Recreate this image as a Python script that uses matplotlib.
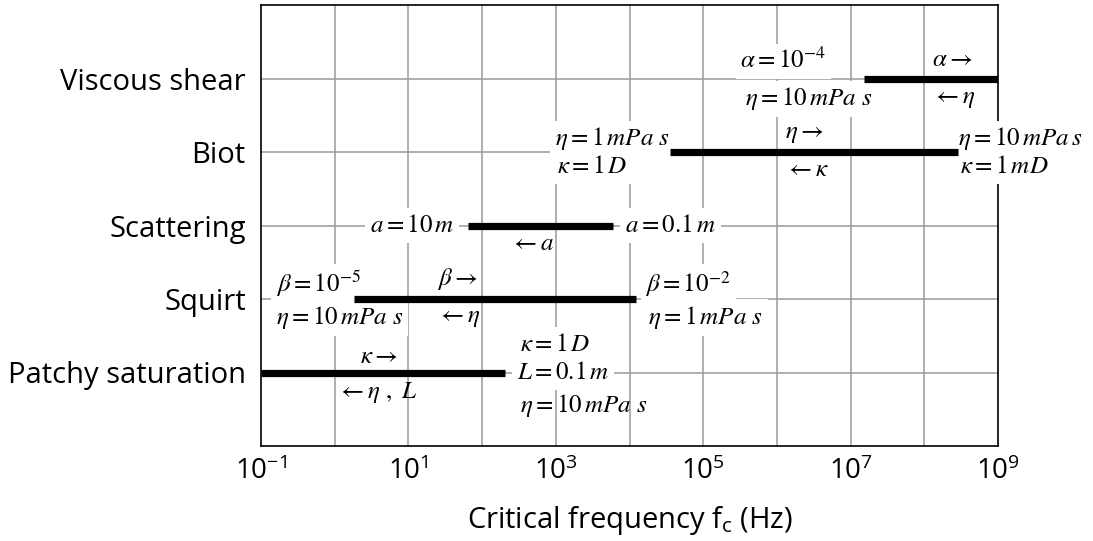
import matplotlib
matplotlib.use("Agg")
import matplotlib.pyplot as plt
import numpy as np

# ---- data ----
categories = ["Patchy saturation", "Squirt", "Scattering", "Biot", "Viscous shear"]
f_start = [0.1, 1.8, 65, 3.6e4, 1.5e7]
f_end = [205, 1.24e4, 6000, 2.9e8, 1e9]
tick_exponents = list(range(-1, 10))
label_exponents = [-1, 1, 3, 5, 7, 9]
xlabel = r"Critical frequency f$\mathregular{_c}$ (Hz)"

# annotation texts: (category index, text, boxed)
ann_texts = [
    (4, r"$\alpha=10^{-4}$", True),
    (4, r"$\eta=10\,mPa\ s$", True),
    (4, r"$\alpha\rightarrow$", False),
    (4, r"$\leftarrow\eta$", False),
    (3, r"$\eta=1\,mPa\ s$", True),
    (3, r"$\kappa=1\,D$", True),
    (3, r"$\eta\rightarrow$", False),
    (3, r"$\leftarrow\kappa$", False),
    (3, r"$\eta=10\,mPa\,s$", True),
    (3, r"$\kappa=1\,mD$", True),
    (2, r"$a=10\,m$", True),
    (2, r"$a=0.1\,m$", True),
    (2, r"$\leftarrow a$", False),
    (1, r"$\beta=10^{-5}$", True),
    (1, r"$\eta=10\,mPa\ s$", True),
    (1, r"$\beta\rightarrow$", False),
    (1, r"$\leftarrow\eta$", False),
    (1, r"$\beta=10^{-2}$", True),
    (1, r"$\eta=1\,mPa\ s$", True),
    (0, r"$\kappa\rightarrow$", False),
    (0, r"$\leftarrow\eta\ ,\ L$", False),
    (0, r"$\kappa=1\,D$", True),
    (0, r"$L=0.1\,m$", True),
    (0, r"$\eta=10\,mPa\ s$", False),
]
# layout: (log10 x of left edge, vertical offset from category)
ann_pos = [
    (5.506, 0.236), (5.572, -0.277), (8.111, 0.253), (8.111, -0.264),
    (2.992, 0.179), (3.019, -0.201), (6.115, 0.261), (6.115, -0.242),
    (8.464, 0.179), (8.491, -0.201),
    (0.480, 0.0), (3.942, 0.0), (2.381, -0.247),
    (-0.796, 0.206), (-0.796, -0.253), (1.390, 0.277), (1.390, -0.239),
    (4.214, 0.206), (4.255, -0.253),
    (0.344, 0.217), (0.032, -0.272), (2.517, 0.380), (2.476, 0.0), (2.517, -0.448),
]

plt.rcParams['font.family'] = ['Open Sans', 'DejaVu Sans']

fig = plt.figure(figsize=(10.93, 5.41), dpi=100)
ax = fig.add_axes([261/1093, 1-446/541, (998-261)/1093, (446-5)/541])

ax.set_xscale('log')
ax.set_xlim(10.0**-1, 10.0**9)
ax.set_ylim(-1, 5)

ypos = np.arange(len(categories))
# grid
for e in tick_exponents[1:-1]:
    ax.axvline(10.0**e, color='#9a9a9a', lw=1.1, zorder=1)
for y in ypos:
    ax.axhline(y, color='#9a9a9a', lw=1.1, zorder=1)

ax.hlines(ypos, f_start, f_end, color='black', lw=5.2, zorder=3)

ax.set_yticks(ypos)
ax.set_yticklabels(categories, fontsize=21)
ax.set_xticks([10.0**e for e in tick_exponents])
ax.set_xticklabels([r"$\mathregular{10^{%d}}$" % e if e in label_exponents else ""
                    for e in tick_exponents], fontsize=20)
ax.minorticks_off()
ax.tick_params(axis='both', length=0)
ax.tick_params(axis='x', pad=8)
ax.tick_params(axis='y', pad=11)
ax.set_xlabel(xlabel, fontsize=21, labelpad=13)

for sp in ax.spines.values():
    sp.set_linewidth(1.2)
    sp.set_color('black')
    sp.set_zorder(2)

for (ci, txt, boxed), (lx, dy) in zip(ann_texts, ann_pos):
    kw = dict(ha='left', va='center', fontsize=18, math_fontfamily='stix',
              zorder=2.5, clip_on=False)
    if boxed:
        kw['bbox'] = dict(facecolor='white', edgecolor='none', pad=3.5)
    ax.text(10.0**lx, ci + dy, txt, **kw)

fig.savefig("out.png", dpi=100)
